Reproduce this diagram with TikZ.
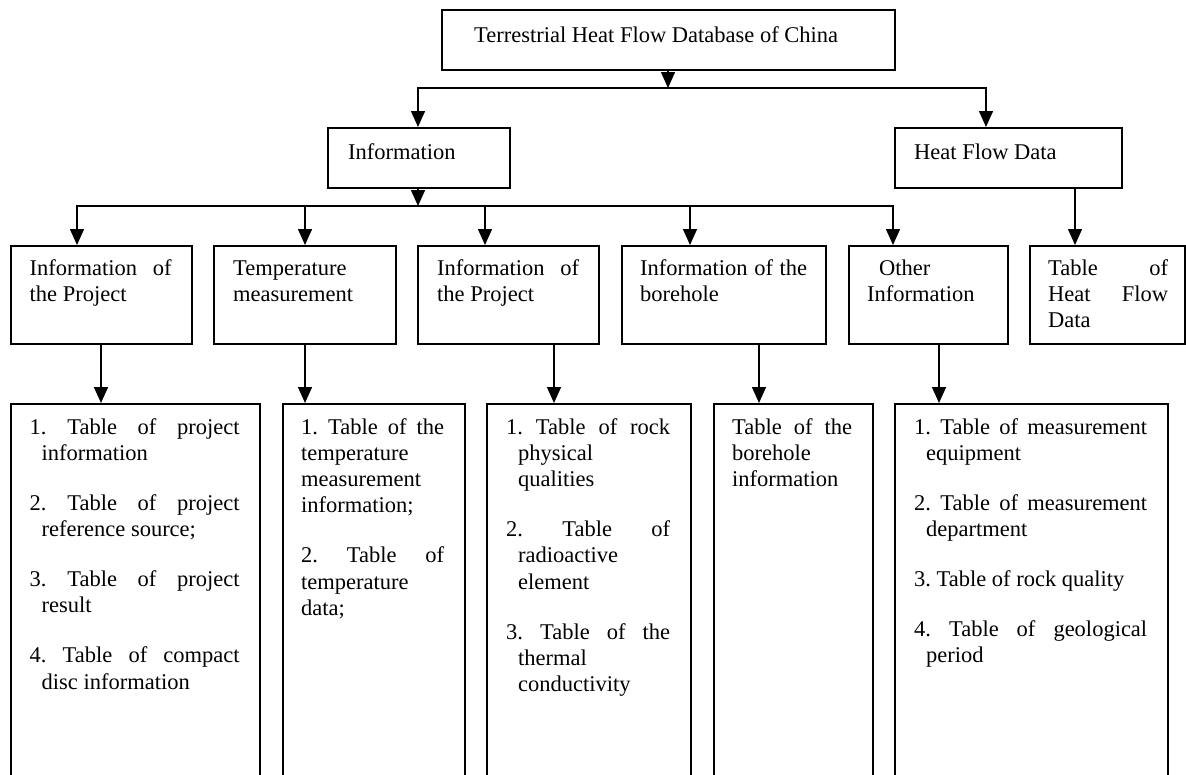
\documentclass[tikz,border=0pt]{standalone}
\usepackage{fontspec}
\setmainfont{Liberation Serif}
\usetikzlibrary{arrows.meta}

\frenchspacing
\hyphenpenalty=10000
\exhyphenpenalty=10000

% one numbered entry of a table list, with hanging indent
\newcommand{\listitem}[2][12pt]{\hangindent=#1\hangafter=1 #2\par\vspace{23.7pt}}

\begin{document}
\begin{tikzpicture}[x=1pt,y=-1pt,
  box/.style={draw, line width=1.6pt, anchor=north west, inner sep=0pt},
  txt/.style={anchor=base west, inner sep=0pt,
    font={\fontsize{22.5}{26.3}\selectfont\tolerance=10000}},
  para/.style={txt, align=justify},
  link/.style={line width=1.5pt},
  arr/.style={link, -{Triangle[length=16pt,width=14pt]}}]

\useasboundingbox (0,0) rectangle (1186,774);

% Top box: the database
\node[box, minimum width=453pt, minimum height=60pt] (db) at (441,9) {};
\node[txt] (dbtext) at ([shift={(33,33)}]db.north west) {Terrestrial Heat Flow Database of China};

% Second row: two parts of the database
\node[box, minimum width=182pt, minimum height=60pt] (info) at (327,127) {};
\node[txt] (infotext) at ([shift={(21,32)}]info.north west) {Information};

\node[box, minimum width=227pt, minimum height=60pt] (heat) at (894,127) {};
\node[txt] (heattext) at ([shift={(20,32)}]heat.north west) {Heat Flow Data};

% Third row: groups of information
\node[box, minimum width=181pt, minimum height=98pt] (B1) at (10,245) {};
\node[box, minimum width=182pt, minimum height=98pt] (B2) at (213,245) {};
\node[box, minimum width=181pt, minimum height=98pt] (B3) at (417,245) {};
\node[box, minimum width=204pt, minimum height=98pt] (B4) at (621,245) {};
\node[box, minimum width=159pt, minimum height=98pt] (B5) at (848,245) {};
\node[box, minimum width=155pt, minimum height=98pt] (B6) at (1029,245) {};

\node[para, text width=142pt] (B1text) at ([shift={(19.5,30)}]B1.north west) {Information of\linebreak the Project};
\node[para, text width=142pt] (B2text) at ([shift={(20,30)}]B2.north west) {Temperature\linebreak measurement};
\node[para, text width=142pt] (B3text) at ([shift={(20,30)}]B3.north west) {Information of\linebreak the Project};
\node[para, text width=167pt] (B4text) at ([shift={(19,30)}]B4.north west) {Information of the\linebreak borehole};
\node[para, text width=120pt] (B5text) at ([shift={(19,30)}]B5.north west) {\hspace*{12pt}Other\linebreak Information};
\node[para, text width=120pt] (B6text) at ([shift={(19,30)}]B6.north west) {Table of\linebreak Heat Flow\linebreak Data};

% Bottom row: the tables (boxes run past the lower edge)
\node[box, minimum width=249pt, minimum height=390pt] (L1) at (10,403) {};
\node[box, minimum width=182pt, minimum height=390pt] (L2) at (282,403) {};
\node[box, minimum width=204pt, minimum height=390pt] (L3) at (486,403) {};
\node[box, minimum width=159pt, minimum height=390pt] (L4) at (713,403) {};
\node[box, minimum width=273pt, minimum height=390pt] (L5) at (894,403) {};

\node[para, text width=210pt] (L1text) at ([shift={(19.5,31)}]L1.north west) {%
  \listitem{1. Table of project\linebreak information}
  \listitem{2. Table of project\linebreak reference source;}
  \listitem{3. Table of project\linebreak result}
  \listitem{4. Table of compact\linebreak disc information}};
\node[para, text width=143pt] (L2text) at ([shift={(19,31)}]L2.north west) {%
  \listitem[0pt]{1. Table of the\linebreak temperature\linebreak measurement\linebreak information;}
  \listitem[0pt]{2. Table of\linebreak temperature\linebreak data;}};
\node[para, text width=164pt] (L3text) at ([shift={(20,31)}]L3.north west) {%
  \listitem{1. Table of rock\linebreak physical\linebreak qualities}
  \listitem{2. Table of\linebreak radioactive\linebreak element}
  \listitem{3. Table of the\linebreak thermal\linebreak conductivity}};
\node[para, text width=120pt] (L4text) at ([shift={(19,31)}]L4.north west) {Table of the\linebreak borehole\linebreak information};
\node[para, text width=233pt] (L5text) at ([shift={(20,31)}]L5.north west) {%
  \listitem{1. Table of measurement\linebreak equipment}
  \listitem{2. Table of measurement\linebreak department}
  \listitem{3. Table of rock quality}
  \listitem{4. Table of geological\linebreak period}};

% Connector from the database to the first bus
\coordinate (bus1) at (668,88);
\coordinate (bus1L) at (418,88);
\coordinate (bus1R) at (986,88);
\draw[arr] (bus1 |- db.south) -- (bus1);
\draw[link, line cap=rect] (bus1L) -- (bus1R);
\draw[arr] (bus1L) -- (bus1L |- info.north);
\draw[arr] (bus1R) -- (bus1R |- heat.north);

% Connector from Information to the second bus
\coordinate (bus2) at (418,206);
\coordinate (bus2L) at (77,206);
\coordinate (bus2R) at (893,206);
\draw[arr] (bus2 |- info.south) -- (bus2);
\draw[link, line cap=rect] (bus2L) -- (bus2R);
\foreach \x/\b in {77/B1,305/B2,485/B3,690/B4,893/B5} {
  \coordinate (d\b) at (\x,206);
  \draw[arr] (d\b) -- (d\b |- \b.north);
}

% Heat Flow Data down to its table
\coordinate (dB6) at (1075,187);
\draw[arr] (dB6 |- heat.south) -- (dB6 |- B6.north);

% Third row down to the tables
\foreach \x/\a/\b in {101/B1/L1,305/B2/L2,554/B3/L3,759/B4/L4,939/B5/L5} {
  \coordinate (e\a) at (\x,343);
  \draw[arr] (e\a |- \a.south) -- (e\a |- \b.north);
}

\end{tikzpicture}
\end{document}
